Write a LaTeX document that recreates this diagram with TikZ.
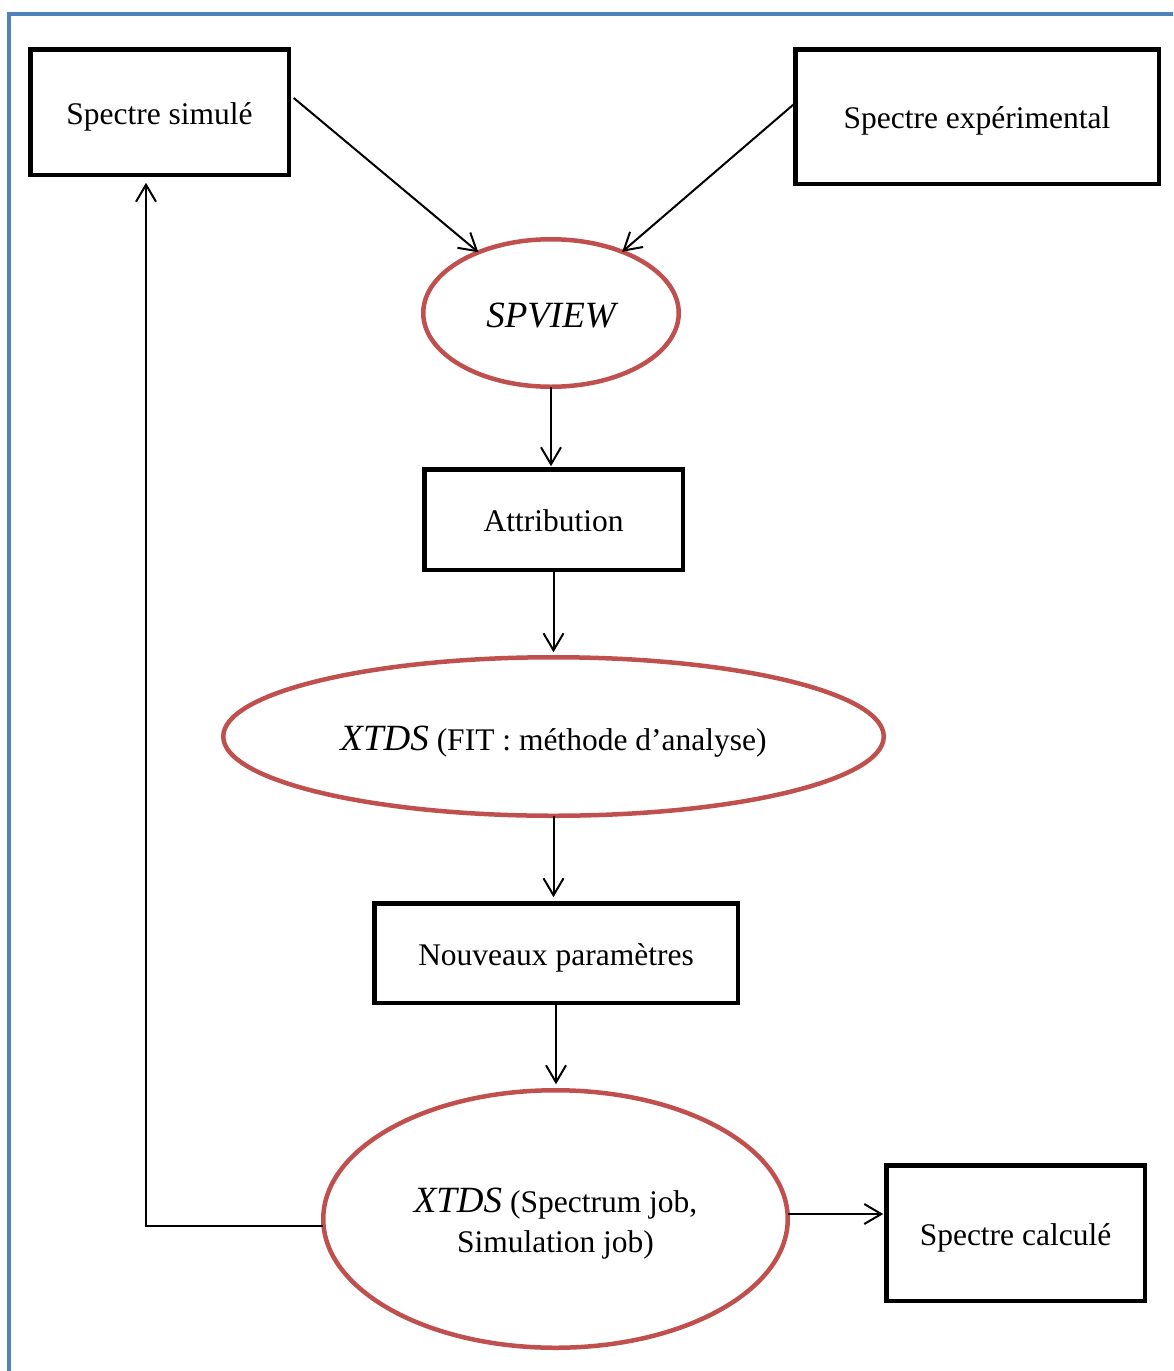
\documentclass[tikz,border=0pt]{standalone}
\usepackage{fontspec}
\setmainfont{Liberation Serif}
\usetikzlibrary{shapes.geometric,arrows.meta}
\definecolor{frameblue}{RGB}{79,129,189}
\definecolor{ellred}{RGB}{192,80,77}
\begin{document}
\begin{tikzpicture}[x=1pt,y=-1pt,
  box/.style={draw=black,line width=4.5pt,rectangle,inner sep=0pt,outer sep=0pt,
    font=\fontsize{31.5}{38}\selectfont,text height=24pt,text depth=0pt},
  ell/.style={draw=ellred,line width=4.5pt,ellipse,inner sep=0pt,outer sep=0pt,
    align=center,font=\fontsize{31.5}{40}\selectfont},
  conn/.style={line width=2pt,-{Straight Barb[length=17pt,width=20pt]}}]
\useasboundingbox (0,0) rectangle (1173,1371);
\clip (0,0) rectangle (1173,1371);
% frame
\draw[frameblue,line width=4pt] (9,1400) -- (9,14) -- (1200,14);
% nodes
\node[box,minimum width=258.5pt,minimum height=125.5pt] (sim) at (159.5,112) {Spectre simulé};
\node[box,minimum width=363.5pt,minimum height=134.5pt] (exp) at (977,116.5) {Spectre expérimental};
\node[ell,minimum width=255.5pt,minimum height=147.5pt,text height=28pt,text depth=0pt] (spv) at (551,313)
  {\fontsize{37}{40}\selectfont\itshape SPVIEW};
\node[box,minimum width=258.5pt,minimum height=100.5pt] (att) at (553.5,519.5) {Attribution};
\node[ell,minimum width=660.5pt,minimum height=158.5pt,text height=28pt,text depth=0pt] (fit) at (553.5,736.5)
  {{\fontsize{37}{40}\selectfont\itshape XTDS} (FIT : méthode d’analyse)};
\node[box,minimum width=363.5pt,minimum height=99.5pt] (nouv) at (556,953) {Nouveaux paramètres};
\node[ell,minimum width=464.5pt,minimum height=257.5pt] (job) at (555.5,1219) {};
\node[align=center,font=\fontsize{31.5}{40}\selectfont,inner sep=0pt] (jobtext) at (555.5,1224)
  {{\fontsize{37}{40}\selectfont\itshape XTDS} (Spectrum job,\\Simulation job)};
\node[box,minimum width=258.5pt,minimum height=135.5pt] (sc) at (1015.5,1233) {Spectre calculé};
% connectors
\draw[conn] ([xshift=5pt,yshift=14pt]sim.east) -- (spv);
\draw[conn] ([yshift=13.5pt]exp.west) -- (spv);
\draw[conn] (spv.south) -- ([yshift=3pt]spv.south |- att.north);
\draw[conn] (att.south) -- ([yshift=5pt]att.south |- fit.north);
\draw[conn] (fit.south) -- ([yshift=6pt]fit.south |- nouv.north);
\draw[conn] (nouv.south) -- ([yshift=6pt]nouv.south |- job.north);
\draw[conn] ([yshift=5pt]job.east) -- ([yshift=5pt,xshift=-3pt]job.east -| sc.west);
\coordinate (fbcorner) at ([yshift=-7pt]job.west -| 146,0);
\draw[conn] ([yshift=-7pt]job.west) -- (fbcorner) -- ([yshift=-8pt]fbcorner |- sim.south);
\end{tikzpicture}
\end{document}
